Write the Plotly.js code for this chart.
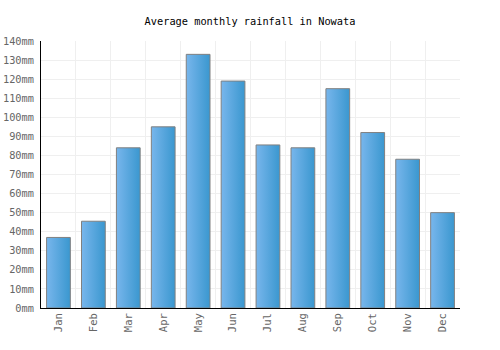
<!DOCTYPE html>
<html><head><meta charset="utf-8">
<script src="https://cdn.plot.ly/plotly-3.0.1.min.js"></script>
<style>html,body{margin:0;padding:0;background:#fff}</style>
</head><body>
<div id="chart" style="width:500px;height:350px"></div>
<script>
const months = ["Jan","Feb","Mar","Apr","May","Jun","Jul","Aug","Sep","Oct","Nov","Dec"];
const rainfall = [37, 45.5, 84, 95, 133, 119, 85.5, 84, 115, 92, 78, 50];
const chartTitle = "Average monthly rainfall in Nowata";

const font = "DejaVu Sans Mono, monospace";
Plotly.newPlot("chart", [{
  type: "bar",
  x: months,
  y: rainfall,
  marker: {color: "#58a7de", line: {color: "#808080", width: 1}},
  hoverinfo: "none"
}], {
  width: 500, height: 350,
  margin: {l: 41, r: 40, t: 41, b: 42},
  paper_bgcolor: "#fff", plot_bgcolor: "#fff",
  bargap: 0.32,
  title: {text: chartTitle, font: {family: font, size: 10.3, color: "#000"}, x: 0.5, xanchor: "center", y: 0.94, yanchor: "middle"},
  xaxis: {
    type: "category", tickson: "boundaries", showgrid: true, gridcolor: "#efefef", gridwidth: 1,
    showline: true, linecolor: "#000", linewidth: 1, ticks: "", tickangle: -90,
    tickfont: {family: font, size: 10.5, color: "#666"}, fixedrange: true
  },
  yaxis: {
    range: [0, 140], dtick: 10, ticksuffix: "mm", showgrid: true, gridcolor: "#efefef",
    showline: true, linecolor: "#000", linewidth: 1, ticks: "", zeroline: false,
    ticklabelstandoff: 4,
    tickfont: {family: font, size: 10.3, color: "#666"}, fixedrange: true
  },
  showlegend: false
}, {staticPlot: true}).then(function(gd){
  const svg = gd.querySelector("svg.main-svg");
  const ns = "http://www.w3.org/2000/svg";
  let defs = svg.querySelector("defs");
  if (!defs) { defs = document.createElementNS(ns, "defs"); svg.insertBefore(defs, svg.firstChild); }
  const g = document.createElementNS(ns, "linearGradient");
  g.setAttribute("id", "barGrad");
  g.setAttribute("x1", "0"); g.setAttribute("y1", "0"); g.setAttribute("x2", "1"); g.setAttribute("y2", "0");
  [["0", "#78b6ec"], ["1", "#3a97cf"]].forEach(function(s){
    const st = document.createElementNS(ns, "stop");
    st.setAttribute("offset", s[0]); st.setAttribute("stop-color", s[1]);
    g.appendChild(st);
  });
  defs.appendChild(g);
  gd.querySelectorAll(".barlayer .point path").forEach(function(p){
    p.style.fill = "url(#barGrad)";
  });
});
</script>
</body></html>
